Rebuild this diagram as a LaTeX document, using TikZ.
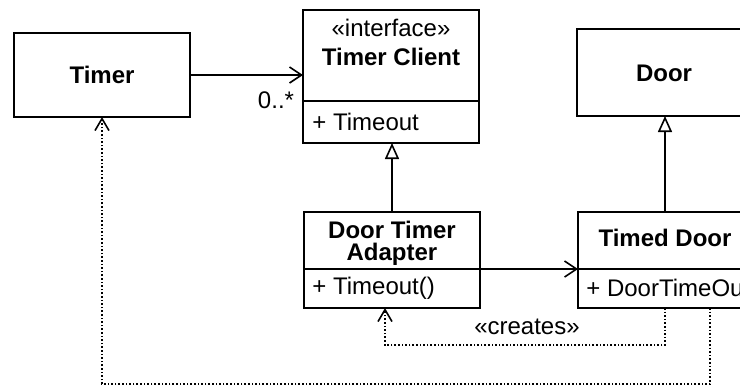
\documentclass[tikz,border=0pt]{standalone}
\usepackage{fontspec}
\setmainfont{Liberation Sans}
\usetikzlibrary{arrows.meta,calc}
\begin{document}
\begin{tikzpicture}[x=0.5pt,y=-0.5pt,
  box/.style={draw,line width=0.9pt,inner sep=0pt,outer sep=0pt},
  ttl/.style={font=\fontsize{12}{11}\selectfont\bfseries,inner sep=0pt,align=center},
  txt/.style={font=\fontsize{12}{13}\selectfont,inner sep=0pt},
  assoc/.style={line width=0.8pt,-{Straight Barb[length=6pt,width=8pt,line width=0.8pt]}},
  gen/.style={line width=0.8pt,-{Triangle[open,length=8pt,width=7pt,line width=0.8pt]}},
  dep/.style={line width=0.8pt,densely dotted,-{Straight Barb[length=6pt,width=7pt,line width=0.8pt,line cap=butt]}},
  divider/.style={line width=0.9pt}]
\useasboundingbox (0,0) rectangle (740,386);
\clip (0,0) rectangle (740,386);
% boxes
\node[box,minimum width=88pt,minimum height=42pt] (timer) at (102,75) {};
\node[box,minimum width=88pt,minimum height=66.5pt] (tc) at (391,76.5) {};
\node[box,minimum width=87.5pt,minimum height=43.5pt] (door) at (664.5,72.5) {};
\node[box,minimum width=88pt,minimum height=48pt] (ad) at (392,260) {};
\node[box,minimum width=87pt,minimum height=48pt] (td) at (665,260) {};
% dividers
\draw[divider] (tc.west |- 0,101) -- (tc.east |- 0,101);
\draw[divider] (ad.west |- 0,269) -- (ad.east |- 0,269);
\draw[divider] (td.west |- 0,269) -- (td.east |- 0,269);
% texts
\node[ttl] (timerT) at (102,75) {Timer};
\node[txt] (tcS) at (391,28) {«interface»};
\node[ttl] (tcT) at (391,57) {Timer Client};
\node[txt,anchor=west] (tcA) at (312,122) {+ Timeout};
\node[ttl] (doorT) at (664,73) {Door};
\node[ttl] (adT) at (392,243) {Door Timer\\Adapter};
\node[txt,anchor=west] (adA) at (312,288) {+ Timeout()};
\node[ttl] (tdT) at (665,238) {Timed Door};
\node[txt,anchor=west] (tdA) at (586,288) {+ DoorTimeOut};
\node[txt] (mult) at (276,100) {0..*};
\node[txt] (cre) at (527,327) {«creates»};
% connectors
\draw[assoc] (timer.east) -- (timer.east -| tc.west);
\draw[gen] (ad.north) -- (ad.north |- tc.south);
\draw[gen] (td.north) -- (td.north |- door.south);
\coordinate (adiv) at (480,269);
\draw[assoc] (adiv) -- (adiv -| td.west);
\coordinate (cr1) at (665,345);
\coordinate (cr2) at (385,345);
\draw[dep] (td.south) -- (cr1) -- (cr2) -- (cr2 |- ad.south);
\coordinate (u1) at (710,384);
\coordinate (u2) at (102,384);
\draw[dep] (u1 |- td.south) -- (u1) -- (u2) -- (timer.south);
\end{tikzpicture}
\end{document}
